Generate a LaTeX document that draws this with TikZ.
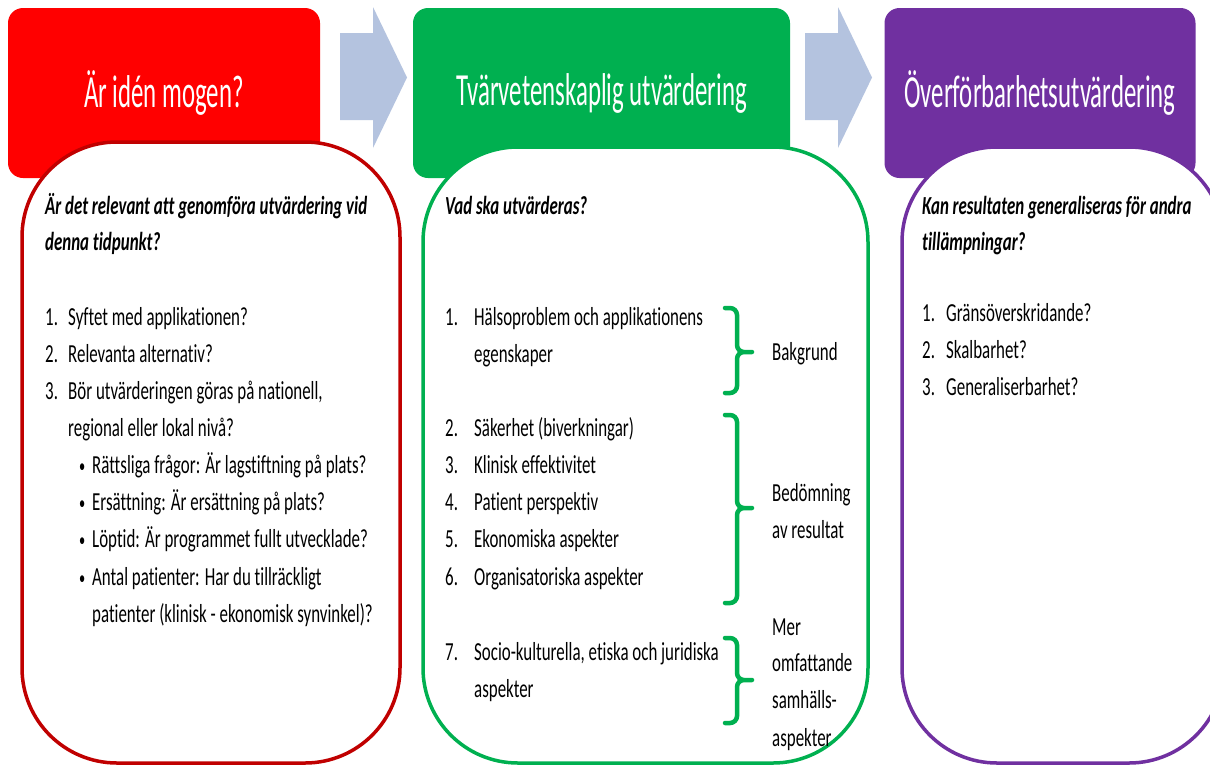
\documentclass[tikz,border=0pt]{standalone}
\usepackage{fontspec}
\newfontfamily\bodyfnt[FakeStretch=0.65, RawFeature={-liga}]{Carlito}
\newfontfamily\headfnt[FakeStretch=0.54, RawFeature={-liga}]{Carlito}
\definecolor{rd}{HTML}{FF0000}
\definecolor{drk}{HTML}{C00000}
\definecolor{grn}{HTML}{00B050}
\definecolor{prp}{HTML}{7030A0}
\definecolor{arrowc}{HTML}{B4C3DF}

\begin{document}
\begin{tikzpicture}[
        x=1pt, y=-1pt,
        hd/.style={rounded corners=15pt, minimum height=170pt, inner sep=0pt,
                   text=white, font=\headfnt\fontsize{46}{50}\selectfont},
        bx/.style={draw, fill=white, line width=3.5pt, rounded corners=95pt, inner sep=0pt},
        txt/.style={anchor=base west, inner sep=0pt, font=\bodyfnt\fontsize{26}{30}\selectfont},
        qst/.style={txt, font=\bodyfnt\bfseries\itshape\fontsize{26}{30}\selectfont},
        dot/.style={txt, font=\bodyfnt\fontsize{19}{20}\selectfont},
        brc/.style={draw=grn, line width=4.5pt, line cap=round, rounded corners=7pt},
        arr/.style={fill=arrowc}
    ]
        \useasboundingbox[fill=white] (0,0) rectangle (1210,764);
        \clip (0,0) rectangle (1210,764);

        % rubriker
        \node[hd, fill=rd,  minimum width=312pt] (h1) at (164,93)    {Är idén mogen?};
        \node[hd, fill=grn, minimum width=377pt] (h2) at (601.5,93)  {Tvärvetenskaplig utvärdering};
        \node[hd, fill=prp, minimum width=311pt] (h3) at (1040,93)   {Överförbarhetsutvärdering};

        % pilar mellan rubrikerna
        \foreach \x in {340,805}
            \fill[arr] (\x,33) -- ++(33,0) -- ++(0,-26) -- ++(34,70.5)
                       -- ++(-34,70.5) -- ++(0,-28) -- ++(-33,0) -- cycle;

        % vita rutor
        \node[bx, draw=drk, minimum width=378pt, minimum height=621pt] (b1) at (211,452.5) {};
        \node[bx, draw=grn, minimum width=445pt, minimum height=616pt] (b2) at (645.5,455) {};
        \node[bx, draw=prp, minimum width=322pt, minimum height=616pt] (b3) at (1063,455)  {};

        % kolumn 1
        \node[qst] (q1a) at (45,214) {Är det relevant att genomföra utvärdering vid};
        \node[qst] (q1b) at (45,250) {denna tidpunkt?};
        \foreach \n/\t/\y in {1./Syftet med applikationen?/325,
                              2./Relevanta alternativ?/362,
                              3./{Bör utvärderingen göras på nationell,}/399}
            \node[txt] at (45,\y) {\n}
                node[txt] at (68,\y) {\t};
        \node[txt] (r1) at (68,436) {regional eller lokal nivå?};
        \foreach \t/\y in {Rättsliga frågor: Är lagstiftning på plats?/473,
                           Ersättning: Är ersättning på plats?/510,
                           Löptid: Är programmet fullt utvecklade?/547,
                           Antal patienter: Har du tillräckligt/585}
            \node[dot] at (79,\y-1) {•}
                node[txt] at (92,\y) {\t};
        \node[txt] (r2) at (92,622) {patienter (klinisk - ekonomisk synvinkel)?};

        % kolumn 2
        \node[qst] (q2) at (445,214) {Vad ska utvärderas?};
        \foreach \n/\t/\y in {1./Hälsoproblem och applikationens/325,
                              2./Säkerhet (biverkningar)/436,
                              3./Klinisk effektivitet/473,
                              4./Patient perspektiv/510,
                              5./Ekonomiska aspekter/547,
                              6./Organisatoriska aspekter/585,
                              7./{Socio-kulturella, etiska och juridiska}/660}
            \node[txt] at (445,\y) {\n}
                node[txt] at (474,\y) {\t};
        \node[txt] (e1) at (474,362) {egenskaper};
        \node[txt] (e2) at (474,697) {aspekter};

        % klamrar och grupper
        \foreach \a/\m/\b in {308/352/393, 415/508/603, 638/680/723}
            \draw[brc] (725,\a) -| (737,\m) -- (752,\m)
                       (725,\b) -| (737,\m) -- (752,\m);
        \node[txt] (g1)  at (772,360) {Bakgrund};
        \node[txt] (g2a) at (772,501) {Bedömning};
        \node[txt] (g2b) at (772,538) {av resultat};
        \node[txt] (g3a) at (772,635) {Mer};
        \node[txt] (g3b) at (772,671) {omfattande};
        \node[txt] (g3c) at (772,708) {samhälls-};
        \node[txt] (g3d) at (772,746) {aspekter};

        % kolumn 3
        \node[qst] (q3a) at (922,214) {Kan resultaten generaliseras för andra};
        \node[qst] (q3b) at (922,250) {tillämpningar?};
        \foreach \n/\t/\y in {1./Gränsöverskridande?/321,
                              2./Skalbarhet?/358,
                              3./Generaliserbarhet?/395}
            \node[txt] at (922,\y) {\n}
                node[txt] at (946,\y) {\t};
\end{tikzpicture}
\end{document}
